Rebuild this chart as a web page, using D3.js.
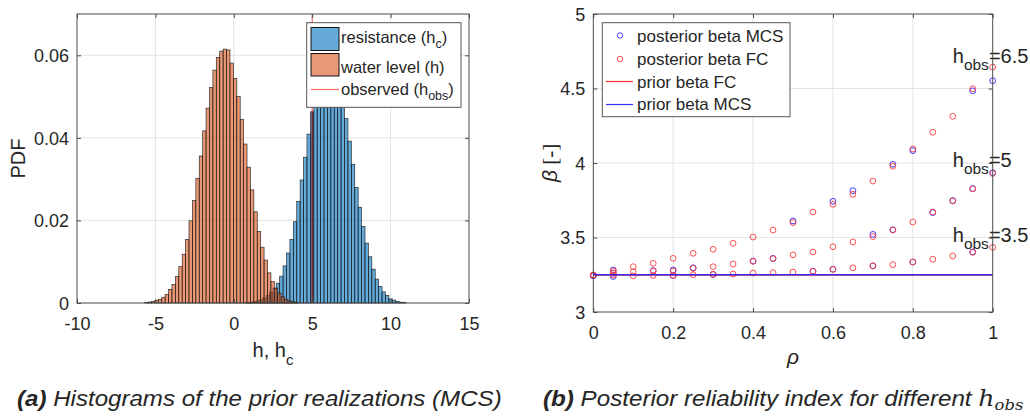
<!DOCTYPE html>
<html><head><meta charset="utf-8">
<script src="https://cdn.jsdelivr.net/npm/d3@7/dist/d3.min.js"></script>
<style>
body{margin:0;background:#fff}
svg{display:block}
text{font-family:"Liberation Sans",Arial,Helvetica,sans-serif;fill:#262626}
</style>
</head><body>
<svg id="c" width="1030" height="416"></svg>
<script>
// ---------------- DATA ----------------
// (a) histograms, probability per bin
const binWidth = 0.2176;
const resistanceBinStart = 0.750;
const resistanceProb = [0.0001,0.0002,0.0003,0.0005,0.0008,0.0012,0.0018,0.0026,0.0036,0.0048,
  0.0065,0.0090,0.0121,0.0154,0.0197,0.0246,0.0298,0.0353,0.0409,0.0463,
  0.0505,0.0540,0.0568,0.0590,0.0602,0.0598,0.0572,0.0538,0.0497,
  0.0447,0.0392,0.0336,0.0280,0.0232,0.0185,0.0145,0.0112,0.0082,0.0058,0.0040,0.0027,0.0018,0.0010,0.0007,0.0004,0.0002,0.0001];
const waterLevelBinStart = -5.685;
const waterLevelProb = [0.0001,0.00024,0.0004,0.0006,0.0009,0.0014,0.0021,0.0033,0.0045,0.0064,0.0088,0.0118,
  0.0154,0.0199,0.0248,0.0302,0.0356,0.0417,0.0472,0.0522,0.0564,0.0595,0.0610,0.0615,0.0613,
  0.0581,0.0544,0.0500,0.0445,0.0385,0.0329,0.0274,0.0221,0.0173,0.0135,0.0104,0.0073,0.0052,0.0036,0.0024,0.0015,0.0008,0.0005,0.0003,0.0001];
const hObserved = 5;
const histXDomain = [-10, 15];
const histYDomain = [0, 0.07];
const histXTicks = [-10, -5, 0, 5, 10, 15];
const histYTicks = [0, 0.02, 0.04, 0.06];
const histLegend = ["resistance (h", "water level (h)", "observed (h"];

// (b) reliability index
const rho = [0,0.05,0.1,0.15,0.2,0.25,0.3,0.35,0.4,0.45,0.5,0.55,0.6,0.65,0.7,0.75,0.8,0.85,0.9,0.95,1];
const betaFC_65  = [3.248,3.275,3.304,3.327,3.360,3.394,3.421,3.461,3.503,3.550,3.600,3.671,3.723,3.790,3.879,3.978,4.094,4.206,4.313,4.499,4.644];
const betaMCS_65 = [3.245,3.282,3.304,3.327,3.360,3.394,3.421,3.461,3.503,3.550,3.611,3.671,3.743,3.814,3.879,3.991,4.083,4.206,4.313,4.485,4.552];
const betaFC_5   = [3.248,3.262,3.271,3.275,3.275,3.293,3.304,3.322,3.340,3.358,3.383,3.403,3.438,3.470,3.506,3.550,3.604,3.671,3.745,3.826,3.930];
const betaMCS_5  = [3.245,3.260,3.271,3.278,3.282,3.297,3.304,3.322,3.342,3.360,3.383,3.403,3.438,3.470,3.521,3.552,3.604,3.667,3.748,3.829,3.935];
const betaFC_35  = [3.248,3.248,3.242,3.245,3.245,3.250,3.253,3.255,3.262,3.264,3.268,3.273,3.286,3.297,3.309,3.318,3.336,3.354,3.376,3.400,3.434];
const betaMCS_35 = [3.245,3.238,3.242,3.245,3.244,3.250,3.252,3.255,3.262,3.264,3.268,3.274,3.287,3.297,3.310,3.318,3.335,3.354,3.376,3.403,3.434];
const priorBetaFC = 3.248;
const priorBetaMCS = 3.250;
const hobsValues = ["6.5", "5", "3.5"];
const hobsLabelRho = 0.9;
const hobsLabelBeta = [4.67, 3.97, 3.47];
const rhoDomain = [0, 1];
const betaDomain = [3, 5];
const rhoTicks = [0, 0.2, 0.4, 0.6, 0.8, 1];
const betaTicks = [3, 3.5, 4, 4.5, 5];
const betaLegend = ["posterior beta MCS", "posterior beta FC", "prior beta FC", "prior beta MCS"];

// ---------------- DRAW ----------------
const svg = d3.select("#c");
const AX = "#4a4a4a", GRID = "#e4e4e4", TICKFS = 18;
const BLUE = "rgb(0,114,189)", ORANGE = "rgb(217,83,25)";

function drawFrame(xs, ys, xT, yT) {
  const [X0, X1] = xs.range(), [Y0, Y1] = ys.range();
  const g = svg.append("g");
  g.selectAll(".gx").data(xT.filter(d => xs(d) > X0 + 1 && xs(d) < X1 - 1)).join("line")
    .attr("x1", d => xs(d)).attr("x2", d => xs(d)).attr("y1", Y0).attr("y2", Y1)
    .attr("stroke", GRID).attr("stroke-width", 1);
  g.selectAll(".gy").data(yT.filter(d => ys(d) < Y0 - 1 && ys(d) > Y1 + 1)).join("line")
    .attr("y1", d => ys(d)).attr("y2", d => ys(d)).attr("x1", X0).attr("x2", X1)
    .attr("stroke", GRID).attr("stroke-width", 1);
  return g;
}
function drawAxes(xs, ys, xT, yT, xFmt, yFmt) {
  const [X0, X1] = xs.range(), [Y0, Y1] = ys.range();
  const g = svg.append("g");
  const bx = g.append("g").attr("transform", `translate(0,${Y0})`)
    .call(d3.axisBottom(xs).tickValues(xT).tickFormat(xFmt).tickSize(-4).tickPadding(0));
  g.append("g").attr("transform", `translate(0,${Y1})`)
    .call(d3.axisTop(xs).tickValues(xT).tickFormat("").tickSize(-4));
  const ly = g.append("g").attr("transform", `translate(${X0},0)`)
    .call(d3.axisLeft(ys).tickValues(yT).tickFormat(yFmt).tickSize(-4).tickPadding(0));
  g.append("g").attr("transform", `translate(${X1},0)`)
    .call(d3.axisRight(ys).tickValues(yT).tickFormat("").tickSize(-4));
  g.selectAll(".domain").remove();
  g.selectAll(".tick line").attr("stroke", AX).attr("stroke-width", 1);
  bx.selectAll("text").attr("y", 27).attr("dy", 0).attr("font-size", TICKFS).attr("fill", "#262626")
    .attr("font-family", "Liberation Sans, Arial, sans-serif");
  ly.selectAll("text").attr("x", -8).attr("dy", "0.35em").attr("font-size", TICKFS).attr("fill", "#262626")
    .attr("font-family", "Liberation Sans, Arial, sans-serif");
  g.append("rect").attr("x", X0).attr("y", Y1).attr("width", X1 - X0).attr("height", Y0 - Y1)
    .attr("fill", "none").attr("stroke", AX).attr("stroke-width", 1);
}

// ===== Panel (a) =====
const xa = d3.scaleLinear().domain(histXDomain).range([77, 469]);
const ya = d3.scaleLinear().domain(histYDomain).range([303, 14]);
drawFrame(xa, ya, histXTicks, histYTicks);
svg.append("line").attr("x1", xa(hObserved)).attr("x2", xa(hObserved))
  .attr("y1", ya(0)).attr("y2", ya(histYDomain[1])).attr("stroke", "#ff5a5a").attr("stroke-width", 1);
function drawHist(start, probs, color) {
  svg.append("g").selectAll("rect").data(probs).join("rect")
    .attr("x", (d, i) => xa(start + i * binWidth))
    .attr("width", (d, i) => xa(start + (i + 1) * binWidth) - xa(start + i * binWidth))
    .attr("y", d => ya(d)).attr("height", d => ya(0) - ya(d))
    .attr("fill", color).attr("fill-opacity", 0.6)
    .attr("stroke", "#111").attr("stroke-width", 0.7).attr("stroke-opacity", 0.85);
}
drawHist(resistanceBinStart, resistanceProb, BLUE);
drawHist(waterLevelBinStart, waterLevelProb, ORANGE);
{
  const idx = Math.floor((hObserved - resistanceBinStart) / binWidth);
  svg.append("line").attr("x1", xa(hObserved)).attr("x2", xa(hObserved))
    .attr("y1", ya(0)).attr("y2", ya(resistanceProb[idx])).attr("stroke", "#8a1010").attr("stroke-width", 1.2);
}
drawAxes(xa, ya, histXTicks, histYTicks, d => String(d), d => d === 0 ? "0" : d.toFixed(2));
svg.append("text").attr("transform", `translate(25,${(ya.range()[0] + ya.range()[1]) / 2}) rotate(-90)`)
  .attr("text-anchor", "middle").attr("font-size", 20).text("PDF");
{
  const t = svg.append("text").attr("x", (xa.range()[0] + xa.range()[1]) / 2).attr("y", 357)
    .attr("text-anchor", "middle").attr("font-size", 20);
  t.append("tspan").text("h, h");
  t.append("tspan").attr("dy", 8).attr("font-size", 15).text("c");
}
// legend (a)
{
  const g = svg.append("g");
  g.append("rect").attr("x", 306.7).attr("y", 22.7).attr("width", 154.3).attr("height", 84.6)
    .attr("fill", "#fff").attr("stroke", "#555").attr("stroke-width", 1);
  g.append("rect").attr("x", 311).attr("y", 27.5).attr("width", 28).attr("height", 23)
    .attr("fill", BLUE).attr("fill-opacity", 0.6).attr("stroke", "#111").attr("stroke-width", 1);
  g.append("rect").attr("x", 311).attr("y", 53.5).attr("width", 28).attr("height", 22.5)
    .attr("fill", ORANGE).attr("fill-opacity", 0.6).attr("stroke", "#111").attr("stroke-width", 1);
  g.append("line").attr("x1", 311).attr("x2", 339).attr("y1", 89.5).attr("y2", 89.5)
    .attr("stroke", "#ff6a6a").attr("stroke-width", 1.2);
  const fs = 16.5;
  let t = g.append("text").attr("x", 341).attr("y", 43).attr("font-size", fs);
  t.append("tspan").text(histLegend[0]);
  t.append("tspan").attr("dy", 5).attr("font-size", 12.5).text("c");
  t.append("tspan").attr("dy", -5).text(")");
  g.append("text").attr("x", 341).attr("y", 72.5).attr("font-size", fs).text(histLegend[1]);
  t = g.append("text").attr("x", 341).attr("y", 94.5).attr("font-size", fs);
  t.append("tspan").text(histLegend[2]);
  t.append("tspan").attr("dy", 5).attr("font-size", 12.5).text("obs");
  t.append("tspan").attr("dy", -5).text(")");
}

// ===== Panel (b) =====
const xb = d3.scaleLinear().domain(rhoDomain).range([593.3, 992.7]);
const yb = d3.scaleLinear().domain(betaDomain).range([312, 14]);
drawFrame(xb, yb, rhoTicks, betaTicks);
const MCSC = "#2a2aff", FCC = "#ff3b3b";
// MCS markers: only where they do not sit exactly under the FC marker (hidden in the reference)
function dots(vals, color, ref) {
  const pts = vals.map((d, i) => ({ r: rho[i], b: d, hide: ref && ref[i] === d })).filter(p => !p.hide);
  svg.append("g").selectAll("circle").data(pts).join("circle")
    .attr("cx", p => xb(p.r)).attr("cy", p => yb(p.b)).attr("r", 2.9)
    .attr("fill", "none").attr("stroke", color).attr("stroke-width", 0.9);
}
dots(betaMCS_65, MCSC, betaFC_65);
dots(betaMCS_5, MCSC, betaFC_5);
dots(betaMCS_35, MCSC, betaFC_35);
[betaFC_65, betaFC_5, betaFC_35].forEach(v => dots(v, FCC, null));
svg.append("line").attr("x1", xb(0)).attr("x2", xb(1)).attr("y1", yb(priorBetaFC)).attr("y2", yb(priorBetaFC))
  .attr("stroke", "#ff0000").attr("stroke-width", 1);
svg.append("line").attr("x1", xb(0)).attr("x2", xb(1)).attr("y1", yb(priorBetaMCS)).attr("y2", yb(priorBetaMCS))
  .attr("stroke", "#2020ff").attr("stroke-width", 1.6).attr("stroke-opacity", 0.9);
hobsValues.forEach((v, i) => {
  const t = svg.append("text").attr("x", xb(hobsLabelRho)).attr("y", yb(hobsLabelBeta[i])).attr("font-size", 20);
  t.append("tspan").text("h");
  t.append("tspan").attr("dy", 7).attr("font-size", 15.5).text("obs");
  t.append("tspan").attr("dy", -7).text("=" + v);
});
drawAxes(xb, yb, rhoTicks, betaTicks, d => String(d), d => String(d));
{
  const t = svg.append("text").attr("transform", `translate(557,${(yb.range()[0] + yb.range()[1]) / 2}) rotate(-90)`)
    .attr("text-anchor", "middle").attr("font-size", 21)
    .attr("font-family", "DejaVu Serif, Liberation Serif, serif");
  t.append("tspan").attr("font-style", "italic").text("β");
  t.append("tspan").attr("font-family", "Liberation Serif, serif").text(" [-]");
}
svg.append("text").attr("x", (xb.range()[0] + xb.range()[1]) / 2).attr("y", 364)
  .attr("text-anchor", "middle").attr("font-size", 21).attr("font-style", "italic")
  .attr("font-family", "DejaVu Serif, Liberation Serif, serif").text("ρ");
// legend (b)
{
  const g = svg.append("g");
  g.append("rect").attr("x", 602.3).attr("y", 22.7).attr("width", 187.7).attr("height", 94)
    .attr("fill", "#fff").attr("stroke", "#555").attr("stroke-width", 1);
  const ys = [42, 65, 87.5, 110];
  const fs = 17;
  g.append("circle").attr("cx", 620).attr("cy", 35.5).attr("r", 2.7).attr("fill", "none").attr("stroke", MCSC).attr("stroke-width", 0.9);
  g.append("circle").attr("cx", 620).attr("cy", 59).attr("r", 2.7).attr("fill", "none").attr("stroke", FCC).attr("stroke-width", 0.9);
  g.append("line").attr("x1", 606).attr("x2", 633).attr("y1", 81.5).attr("y2", 81.5).attr("stroke", "#ff3030").attr("stroke-width", 1.2);
  g.append("line").attr("x1", 606).attr("x2", 633).attr("y1", 104.5).attr("y2", 104.5).attr("stroke", "#3030ff").attr("stroke-width", 1.2);
  betaLegend.forEach((s, i) => g.append("text").attr("x", 637).attr("y", ys[i]).attr("font-size", fs).text(s));
}

// ===== Captions =====
function fitCaption(g, x0, x1) {
  const bb = g.node().getBBox();
  const s = (x1 - x0) / bb.width;
  g.attr("transform", `translate(${x0 - bb.x * s},0) scale(${s},1)`);
}
{
  const g = svg.append("g");
  const t = g.append("text").attr("x", 0).attr("y", 406).attr("font-size", 22).attr("font-style", "italic").attr("fill", "#111");
  t.append("tspan").attr("font-weight", "bold").text("(a)");
  t.append("tspan").text(" Histograms of the prior realizations (MCS)");
  fitCaption(g, 17, 502);
}
{
  const g = svg.append("g");
  const t = g.append("text").attr("x", 0).attr("y", 406).attr("font-size", 22).attr("font-style", "italic").attr("fill", "#111");
  t.append("tspan").attr("font-weight", "bold").text("(b)");
  t.append("tspan").text(" Posterior reliability index for different ");
  t.append("tspan").attr("font-family", "DejaVu Serif, Liberation Serif, serif").attr("font-size", 23).text("h");
  t.append("tspan").attr("font-family", "DejaVu Serif, Liberation Serif, serif").attr("font-size", 15).attr("dy", 4).text("obs");
  fitCaption(g, 543, 1024);
}
</script>
</body></html>
